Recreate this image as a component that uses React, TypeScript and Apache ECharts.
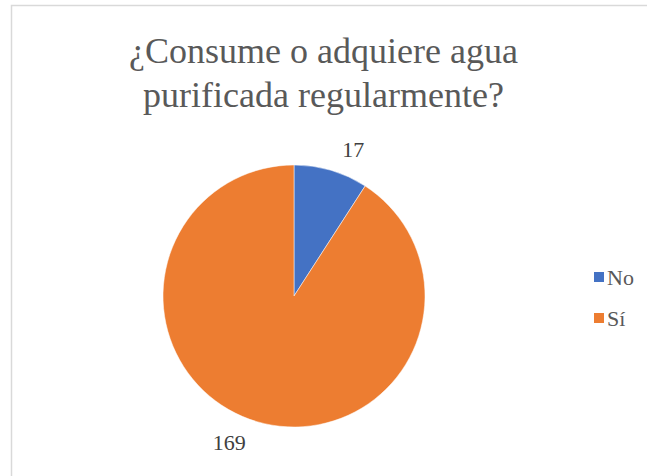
import React, { useEffect, useRef } from "react";
import * as echarts from "echarts";

const titleText = "¿Consume o adquiere agua\npurificada regularmente?";
const categories = ["No", "Sí"];
const values = [17, 169];
const colors = ["#4472C4", "#ED7D31"];

export default function App() {
  const ref = useRef<HTMLDivElement>(null);
  useEffect(() => {
    const chart = echarts.init(ref.current!, null, { renderer: "svg" });
    const font = "'Liberation Serif', 'Times New Roman', serif";
    chart.setOption({
      animation: false,
      backgroundColor: "#ffffff",
      title: {
        text: titleText,
        left: "center",
        top: 24,
        textStyle: {
          fontFamily: font,
          fontSize: 36,
          fontWeight: "normal",
          color: "#595959",
          lineHeight: 44,
        },
      },
      graphic: [
        {
          type: "rect",
          shape: { x: 11.5, y: 5.5, width: 700, height: 600 },
          style: { fill: "none", stroke: "#d9d9d9", lineWidth: 1.5 },
          silent: true,
        },
      ],
      legend: {
        orient: "vertical",
        left: 587,
        top: 261,
        itemWidth: 12,
        itemHeight: 12,
        itemGap: 19,
        icon: "rect",
        data: categories,
        textStyle: {
          fontFamily: font,
          fontSize: 22,
          lineHeight: 22,
          color: "#595959",
          padding: [0, 0, 0, -3],
        },
      },
      series: [
        {
          type: "pie",
          center: [294, 296],
          radius: 131,
          startAngle: 90,
          clockwise: true,
          data: categories.map((c, i) => ({
            name: c,
            value: values[i],
            itemStyle: { color: colors[i] },
          })),
          itemStyle: { borderColor: "#ffffff", borderWidth: 0.5 },
          label: {
            show: true,
            position: "outside",
            formatter: "{c}",
            fontFamily: font,
            fontSize: 22,
            color: "#404040",
          },
          labelLine: { show: false, length: 22, length2: 0 },
        },
      ],
    });
    return () => chart.dispose();
  }, []);
  return (
    <div
      ref={ref}
      style={{ position: "fixed", left: 0, top: 0, width: 647, height: 476 }}
    />
  );
}
